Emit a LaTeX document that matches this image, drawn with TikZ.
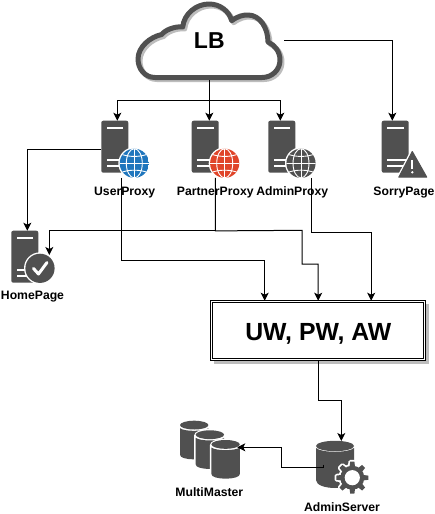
\documentclass[tikz,border=0pt]{standalone}
\usepackage{fontspec}
\setmainfont{Liberation Sans}
\usetikzlibrary{arrows.meta,calc}
\definecolor{icondark}{HTML}{505050}
\definecolor{shadowgrey}{HTML}{BDBDBD}
\definecolor{globeblue}{HTML}{1F76BD}
\definecolor{globered}{HTML}{E0452A}
\tikzset{
  iconbox/.style={inner sep=0pt,outer sep=0pt,draw=none,fill=none},
  lbl/.style={inner sep=0pt,anchor=base,font=\bfseries\fontsize{12.2}{12}\selectfont,text=black},
  conn/.style={line width=1pt,draw=black,-{Stealth[length=8pt,width=8pt,inset=2pt]}},
  cloudline/.style={line width=5pt,line join=round},
}
\newcommand{\srv}[2]{% left x, top y
  \fill[icondark,rounded corners=2pt] (#1,#2+52) -- (#1,#2) -- (#1+27,#2) -- (#1+27,#2+52) -- cycle;
  \fill[white] (#1+5.3,#2+6.6) rectangle (#1+22,#2+8.6);
  \fill[white] (#1+5.3,#2+38.3) rectangle (#1+27,#2+40.3);
  \fill[white] (#1+5.3,#2+44.3) rectangle (#1+27,#2+46.3);
}
\newcommand{\globeicon}[3]{% cx, cy, colour
  \fill[white] (#1,#2) circle[radius=16];
  \begin{scope}
    \clip (#1,#2) circle[radius=14.6];
    \fill[#3] (#1-15,#2-15) rectangle (#1+15,#2+15);
    \draw[white,line width=0.9pt] (#1,#2-15) -- (#1,#2+15);
    \draw[white,line width=0.9pt] (#1,#2) ellipse[x radius=8,y radius=14.6];
    \draw[white,line width=0.9pt] (#1-15,#2) -- (#1+15,#2);
    \draw[white,line width=0.9pt] (#1-14,#2-9.5) .. controls (#1-6,#2-6) and (#1+6,#2-6) .. (#1+14,#2-9.5);
    \draw[white,line width=0.9pt] (#1-14,#2+9.5) .. controls (#1-6,#2+6) and (#1+6,#2+6) .. (#1+14,#2+9.5);
  \end{scope}
}
\newcommand{\cyl}[2]{% left x, top y: 28.4 wide, 38.6 high
  \fill[white] (#1-1.5,#2+5) -- (#1-1.5,#2+35) arc[start angle=180,end angle=360,x radius=15.7,y radius=5.5]
     -- (#1+29.9,#2+5) arc[start angle=0,end angle=-180,x radius=15.7,y radius=6.5] -- cycle;
  \fill[icondark] (#1,#2+7.5) -- (#1,#2+34) .. controls (#1,#2+37) and (#1+6,#2+38.6) .. (#1+14.2,#2+38.6)
     .. controls (#1+22.4,#2+38.6) and (#1+28.4,#2+37) .. (#1+28.4,#2+34) -- (#1+28.4,#2+7.5)
     .. controls (#1+24,#2+11) and (#1+4,#2+11) .. (#1,#2+7.5) -- cycle;
  \fill[icondark] (#1+14.2,#2+4.4) ellipse[x radius=14.2,y radius=4.4];
}
\begin{document}
\begin{tikzpicture}[x=1pt,y=-1pt]
\useasboundingbox (0,0) rectangle (435,514);
\fill[white] (0,0) rectangle (435,514);
% cloud
\def\cloudpath{(155,77.5) .. controls (145,77.5) and (138,69) .. (138,59)
  .. controls (138,47) and (150,37) .. (161.7,34.5)
  .. controls (165,30) and (175,26) .. (182.7,27)
  .. controls (184,14) and (196,4) .. (209,4)
  .. controls (220,4) and (229,11) .. (231.7,20.7)
  .. controls (238,16) and (243,15) .. (248,15)
  .. controls (260,15) and (268,28) .. (268,42)
  .. controls (275,45) and (280,52) .. (280,60)
  .. controls (280,70) and (272,77.5) .. (262,77.5) -- cycle}
\fill[white] \cloudpath;
\begin{scope}[shift={(2,2)}]
  \draw[shadowgrey,cloudline] \cloudpath;
\end{scope}
\draw[icondark,cloudline] \cloudpath;
\node[iconbox,anchor=base,font=\bfseries\fontsize{23}{23}\selectfont] (lb) at (209.3,48.3) {LB};
\node[iconbox,minimum width=150pt,minimum height=79pt] (cloud) at (209.3,40.5) {};
% servers
\srv{101.3}{120.7} \globeicon{134.3}{163.3}{globeblue}
\srv{191.7}{120.7} \globeicon{224.7}{163.3}{globered}
\srv{268.3}{120.7} \globeicon{301}{163.3}{icondark}
\srv{381.7}{120.7}
\fill[white,line join=round,line width=3pt,draw=white] (412.3,150.7) -- (398.3,177.7) -- (427.3,177.7) -- cycle;
\fill[icondark,line join=round,line width=1pt,draw=icondark] (412.3,151.5) -- (398.8,177.2) -- (426.8,177.2) -- cycle;
\fill[white] (411.2,159.5) rectangle (413.4,169);
\fill[white] (412.3,172.3) circle[radius=1.3];
\srv{11.3}{230.7}
\fill[white] (40,268.3) circle[radius=16];
\fill[icondark] (40,268.3) circle[radius=14.6];
\draw[white,line width=3pt,line cap=round,line join=round] (33.5,268.5) -- (38.5,274) -- (47,262.5);
\node[iconbox,minimum width=32pt,minimum height=57.2pt] (user) at (117.3,149.3) {};
\node[iconbox,minimum width=35.2pt,minimum height=57.2pt] (partner) at (209.3,149.3) {};
\node[iconbox,minimum width=24pt,minimum height=57.2pt] (admin) at (280.3,149.3) {};
\node[iconbox,minimum width=21.2pt,minimum height=57.2pt] (sorry) at (392.3,149.3) {};
\node[iconbox,minimum width=32pt,minimum height=52pt] (home) at (27.3,256.7) {};
% labels
\node[lbl] (luser) at (124.7,195) {UserProxy};
\node[lbl] (lpartner) at (215.3,195) {PartnerProxy};
\node[lbl] (ladmin) at (292.2,195) {AdminProxy};
\node[lbl] (lsorry) at (404,195) {SorryPage};
\node[lbl] (lhome) at (32.5,299.3) {HomePage};
\node[lbl] (lmm) at (209.3,496.3) {MultiMaster};
\node[lbl] (lad) at (342,511.3) {AdminServer};
% workers box
\fill[shadowgrey] (213.5,303.5) rectangle (428.5,363.5);
\node[iconbox,draw=black,fill=white,line width=1pt,minimum width=215pt,minimum height=59.6pt] (w) at (318.2,330.5) {};
\draw[black,line width=1pt] (212.7,302.7) rectangle (423.8,358.3);
\node[inner sep=0pt,anchor=base,font=\bfseries\fontsize{24.8}{24}\selectfont] (wt) at (318.3,340) {UW, PW, AW};
% databases
\cyl{180}{420.7}
\cyl{195.7}{430.3}
\cyl{211.4}{440}
\node[iconbox,minimum width=23.4pt,minimum height=38.6pt] (mm) at (225.6,459.3) {};
% admin server
\fill[icondark] (316,448) -- (316,480) .. controls (316,485) and (325,488) .. (335,488)
  .. controls (345,488) and (354,485) .. (354,480) -- (354,448)
  .. controls (349,453) and (321,453) .. (316,448) -- cycle;
\fill[icondark] (335,446) ellipse[x radius=19,y radius=5.2];
\node[iconbox,minimum width=36.3pt,minimum height=47pt] (as) at (341.3,464.5) {};
\foreach \a in {0,45,...,315}{
  \draw[white,line width=3.5pt,line join=round,rotate around={\a:(352.3,477.7)}] (350.2,461.7) -- (354.4,461.7) -- (355.3,469) -- (349.3,469) -- cycle;
}
\fill[white] (352.3,477.7) circle[radius=13.8];
\foreach \a in {0,45,...,315}{
  \fill[icondark,rotate around={\a:(352.3,477.7)}] (350.2,461.7) -- (354.4,461.7) -- (355.3,469) -- (349.3,469) -- cycle;
}
\fill[icondark] (352.3,477.7) circle[radius=12];
\fill[white] (352.3,477.7) circle[radius=7.6];
% connectors
\draw[conn] (cloud.south) -- (partner.north);
\draw[conn] (cloud.south) -- ++(0,20) -| (user.north);
\draw[conn] (cloud.south) -- ++(0,20) -| (admin.north);
\draw[conn] (cloud.east) -| (sorry.north);
\draw[conn] (user.west) -| (home.north);
\draw[conn] ([xshift=4pt]user.south) -- ++(0,83) -| ([xshift=-53.5pt]w.north);
\draw[conn] ([xshift=6pt]partner.south) -- ++(0,53) -| (49.3,255);
\draw[conn] ([xshift=6pt]partner.south) -- ++(0,53) -- (302,230.3) -- (302,264) -| (w.north);
\draw[conn] ([xshift=31pt]admin.south) -- ++(0,55) -| ([xshift=53pt]w.north);
\draw[conn] (w.south) -- ++(0,40) -| (as.north);
\draw[conn] (as.west) -- ++(0,2.8) -- (281.3,467.3) |- ([yshift=12pt]mm.east);
\end{tikzpicture}
\end{document}
